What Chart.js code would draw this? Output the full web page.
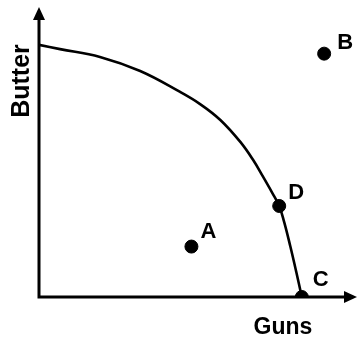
<!DOCTYPE html>
<html>
<head>
<meta charset="utf-8">
<style>
  html, body { margin: 0; padding: 0; background: #fff; }
  canvas { display: block; }
</style>
<script src="https://cdn.jsdelivr.net/npm/chart.js"></script>
</head>
<body>
<canvas id="ppf" width="358" height="343"></canvas>
<script>
// production possibility frontier
const curveGuns   = [0, 8, 23.2, 38.5, 53.7, 61.3, 69, 76.6, 81.5, 85.3, 88.8, 91.4, 93.3, 95.6, 97.9, 100];
const curveButter = [100, 98.3, 95.2, 89.6, 81.3, 76.5, 70.2, 61.5, 54.3, 47.6, 41.2, 36.1, 29.7, 20.2, 9.9, 0];

const pointLabels = ['A', 'B', 'C', 'D'];
const pointGuns   = [58, 108.5, 100, 91.4];
const pointButter = [20, 96.5, 0, 36.1];

const xTitle = 'Guns';
const yTitle = 'Butter';

const FAMILY = '"Liberation Sans", Arial, sans-serif';

// axes with arrow heads
const axisArrows = {
  id: 'axisArrows',
  beforeDatasetsDraw(chart) {
    const { ctx, chartArea: a } = chart;
    ctx.save();
    ctx.strokeStyle = '#000';
    ctx.fillStyle = '#000';
    ctx.lineWidth = 3;
    ctx.beginPath();
    ctx.moveTo(a.left, a.bottom + 1.5);
    ctx.lineTo(a.left, a.top + 8);
    ctx.moveTo(a.left - 1.5, a.bottom);
    ctx.lineTo(a.right - 8, a.bottom);
    ctx.stroke();

    ctx.beginPath();
    ctx.moveTo(a.left, a.top);
    ctx.lineTo(a.left - 6, a.top + 13);
    ctx.lineTo(a.left + 6, a.top + 13);
    ctx.closePath();
    ctx.fill();

    ctx.beginPath();
    ctx.moveTo(a.right, a.bottom);
    ctx.lineTo(a.right - 13, a.bottom - 6);
    ctx.lineTo(a.right - 13, a.bottom + 6);
    ctx.closePath();
    ctx.fill();
    ctx.restore();
  }
};

// point letters and axis names
const labelOffsets = [[17, -15], [21, -11], [19, -17], [17, -13]];
const textLabels = {
  id: 'textLabels',
  afterDatasetsDraw(chart) {
    const { ctx, chartArea: a } = chart;
    const meta = chart.getDatasetMeta(1);
    ctx.save();
    ctx.fillStyle = '#000';
    ctx.textAlign = 'center';
    ctx.textBaseline = 'middle';
    ctx.font = 'bold 22px ' + FAMILY;
    meta.data.forEach((el, i) => {
      const off = labelOffsets[i];
      ctx.fillText(pointLabels[i], el.x + off[0], el.y + off[1]);
    });

    ctx.font = 'bold 23px ' + FAMILY;
    ctx.fillText(xTitle, 283, a.bottom + 31);

    ctx.font = 'bold 25px ' + FAMILY;
    ctx.translate(22, 81);
    ctx.rotate(-Math.PI / 2);
    ctx.fillText(yTitle, 0, 0);
    ctx.restore();
  }
};

new Chart(document.getElementById('ppf'), {
  type: 'scatter',
  data: {
    datasets: [{
      label: 'PPF',
      data: curveGuns.map((g, i) => ({ x: g, y: curveButter[i] })),
      showLine: true,
      borderColor: '#000',
      borderWidth: 2.6,
      pointRadius: 0,
      tension: 0.4
    }, {
      label: 'Points',
      data: pointGuns.map((g, i) => ({ x: g, y: pointButter[i] })),
      backgroundColor: '#000',
      borderColor: '#000',
      pointRadius: 6.5
    }]
  },
  options: {
    responsive: false,
    animation: false,
    layout: { autoPadding: false, padding: { left: 39, right: 1, top: 7, bottom: 46 } },
    plugins: { legend: { display: false }, tooltip: { enabled: false } },
    scales: {
      x: { display: false, min: 0, max: 121 },
      y: { display: false, min: 0, max: 115 }
    }
  },
  plugins: [axisArrows, textLabels]
});
</script>
</body>
</html>
